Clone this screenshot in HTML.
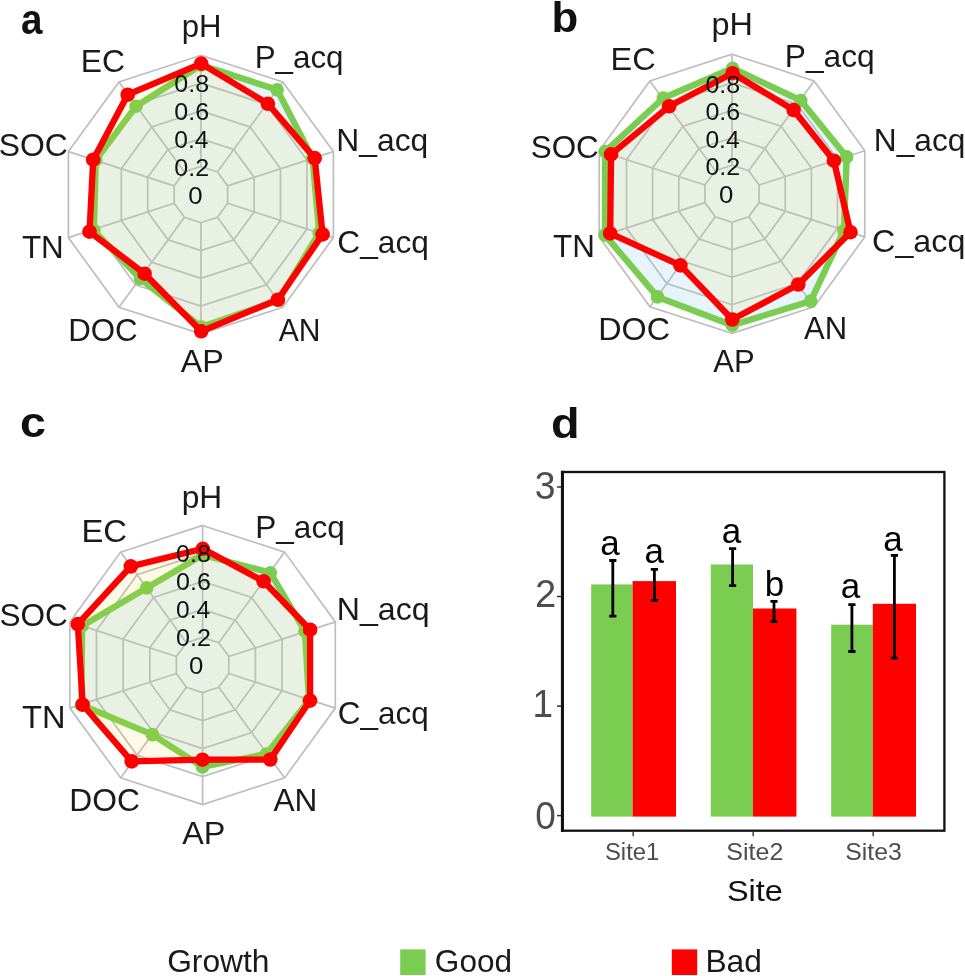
<!DOCTYPE html>
<html><head><meta charset="utf-8"><title>Radar and bar charts</title>
<style>
html,body{margin:0;padding:0;background:#fff;}
svg{position:absolute;left:0;top:0;}
body{width:965px;height:976px;overflow:hidden;font-family:"Liberation Sans", sans-serif;}
svg{display:block;font-family:"Liberation Sans", sans-serif;filter:blur(0.75px);}
</style></head><body>
<svg width="965" height="976" viewBox="0 0 965 976">
<rect width="965" height="976" fill="#ffffff"/>
<polygon points="200.9,166.5 217.4,171.9 227.6,185.9 227.6,203.3 217.4,217.3 200.9,222.7 184.4,217.3 174.2,203.3 174.2,185.9 184.4,171.9" fill="none" stroke="#bebebe" stroke-width="1.7"/>
<polygon points="200.9,138.7 233.8,149.4 254.1,177.3 254.1,211.9 233.8,239.8 200.9,250.5 168.0,239.8 147.7,211.9 147.7,177.3 168.0,149.4" fill="none" stroke="#bebebe" stroke-width="1.7"/>
<polygon points="200.9,110.9 250.1,126.9 280.5,168.7 280.5,220.5 250.1,262.3 200.9,278.3 151.7,262.3 121.3,220.5 121.3,168.7 151.7,126.9" fill="none" stroke="#bebebe" stroke-width="1.7"/>
<polygon points="200.9,83.1 266.4,104.4 306.9,160.1 306.9,229.1 266.4,284.8 200.9,306.1 135.4,284.8 94.9,229.1 94.9,160.1 135.4,104.4" fill="none" stroke="#bebebe" stroke-width="1.7"/>
<polygon points="200.9,55.3 282.8,81.9 333.4,151.6 333.4,237.6 282.8,307.3 200.9,333.9 119.0,307.3 68.4,237.6 68.4,151.6 119.0,81.9" fill="none" stroke="#bebebe" stroke-width="1.7"/>
<line x1="200.9" y1="166.5" x2="200.9" y2="55.3" stroke="#bebebe" stroke-width="1.7"/>
<line x1="217.4" y1="171.9" x2="282.8" y2="81.9" stroke="#bebebe" stroke-width="1.7"/>
<line x1="227.6" y1="185.9" x2="333.4" y2="151.6" stroke="#bebebe" stroke-width="1.7"/>
<line x1="227.6" y1="203.3" x2="333.4" y2="237.6" stroke="#bebebe" stroke-width="1.7"/>
<line x1="217.4" y1="217.3" x2="282.8" y2="307.3" stroke="#bebebe" stroke-width="1.7"/>
<line x1="200.9" y1="222.7" x2="200.9" y2="333.9" stroke="#bebebe" stroke-width="1.7"/>
<line x1="184.4" y1="217.3" x2="119.0" y2="307.3" stroke="#bebebe" stroke-width="1.7"/>
<line x1="174.2" y1="203.3" x2="68.4" y2="237.6" stroke="#bebebe" stroke-width="1.7"/>
<line x1="174.2" y1="185.9" x2="68.4" y2="151.6" stroke="#bebebe" stroke-width="1.7"/>
<line x1="184.4" y1="171.9" x2="119.0" y2="81.9" stroke="#bebebe" stroke-width="1.7"/>
<polygon points="201.2,65.0 277.1,89.8 312.6,158.3 319.2,232.8 278.3,300.5 201.2,327.0 140.4,278.7 93.8,230.4 95.7,160.2 136.0,106.3" fill="rgba(135,206,235,0.2)" stroke="#7acd51" stroke-width="6.4" stroke-linejoin="round"/>
<circle cx="201.2" cy="65.0" r="6.8" fill="#7acd51"/>
<circle cx="277.1" cy="89.8" r="6.8" fill="#7acd51"/>
<circle cx="312.6" cy="158.3" r="6.8" fill="#7acd51"/>
<circle cx="319.2" cy="232.8" r="6.8" fill="#7acd51"/>
<circle cx="278.3" cy="300.5" r="6.8" fill="#7acd51"/>
<circle cx="201.2" cy="327.0" r="6.8" fill="#7acd51"/>
<circle cx="140.4" cy="278.7" r="6.8" fill="#7acd51"/>
<circle cx="93.8" cy="230.4" r="6.8" fill="#7acd51"/>
<circle cx="95.7" cy="160.2" r="6.8" fill="#7acd51"/>
<circle cx="136.0" cy="106.3" r="6.8" fill="#7acd51"/>
<polygon points="201.2,63.6 267.9,103.8 314.7,158.1 322.6,234.4 277.8,299.7 201.2,331.3 144.6,273.7 89.5,231.7 93.2,159.7 127.7,94.7" fill="rgba(250,208,20,0.1)" stroke="#ff0000" stroke-width="6.3" stroke-linejoin="round"/>
<circle cx="201.2" cy="63.6" r="7.3" fill="#ff0000"/>
<circle cx="267.9" cy="103.8" r="7.3" fill="#ff0000"/>
<circle cx="314.7" cy="158.1" r="7.3" fill="#ff0000"/>
<circle cx="322.6" cy="234.4" r="7.3" fill="#ff0000"/>
<circle cx="277.8" cy="299.7" r="7.3" fill="#ff0000"/>
<circle cx="201.2" cy="331.3" r="7.3" fill="#ff0000"/>
<circle cx="144.6" cy="273.7" r="7.3" fill="#ff0000"/>
<circle cx="89.5" cy="231.7" r="7.3" fill="#ff0000"/>
<circle cx="93.2" cy="159.7" r="7.3" fill="#ff0000"/>
<circle cx="127.7" cy="94.7" r="7.3" fill="#ff0000"/>
<text transform="translate(188.18,204.2) scale(1.075,1)" font-size="24" font-weight="normal" fill="#111">0</text>
<text transform="translate(174.30,175.8) scale(1.047,1)" font-size="24" font-weight="normal" fill="#111">0.2</text>
<text transform="translate(174.33,148.0) scale(1.023,1)" font-size="24" font-weight="normal" fill="#111">0.4</text>
<text transform="translate(174.31,120.2) scale(1.044,1)" font-size="24" font-weight="normal" fill="#111">0.6</text>
<text transform="translate(174.31,92.4) scale(1.043,1)" font-size="24" font-weight="normal" fill="#111">0.8</text>
<text transform="translate(181.68,36.8) scale(1.019,1)" font-size="30.5" font-weight="normal" fill="#1a1a1a">pH</text>
<text transform="translate(254.70,68.4) scale(1.028,1)" font-size="30.5" font-weight="normal" fill="#1a1a1a">P_acq</text>
<text transform="translate(336.31,151.0) scale(1.043,1)" font-size="30.5" font-weight="normal" fill="#1a1a1a">N_acq</text>
<text transform="translate(337.29,253.4) scale(1.039,1)" font-size="30.5" font-weight="normal" fill="#1a1a1a">C_acq</text>
<text transform="translate(278.63,341.2) scale(0.985,1)" font-size="30.5" font-weight="normal" fill="#1a1a1a">AN</text>
<text transform="translate(180.84,372.2) scale(1.057,1)" font-size="30.5" font-weight="normal" fill="#1a1a1a">AP</text>
<text transform="translate(68.21,340.8) scale(1.026,1)" font-size="30.5" font-weight="normal" fill="#1a1a1a">DOC</text>
<text transform="translate(21.89,257.7) scale(1.029,1)" font-size="30.5" font-weight="normal" fill="#1a1a1a">TN</text>
<text transform="translate(-1.30,155.6) scale(1.047,1)" font-size="30.5" font-weight="normal" fill="#1a1a1a">SOC</text>
<text transform="translate(80.66,71.6) scale(1.044,1)" font-size="30.5" font-weight="normal" fill="#1a1a1a">EC</text>
<polygon points="732.0,165.3 748.7,170.8 759.1,185.0 759.1,202.6 748.7,216.8 732.0,222.3 715.3,216.8 704.9,202.6 704.9,185.0 715.3,170.8" fill="none" stroke="#bebebe" stroke-width="1.7"/>
<polygon points="732.0,137.8 764.9,148.5 785.2,176.5 785.2,211.1 764.9,239.1 732.0,249.8 699.1,239.1 678.8,211.1 678.8,176.5 699.1,148.5" fill="none" stroke="#bebebe" stroke-width="1.7"/>
<polygon points="732.0,110.4 781.0,126.3 811.4,168.0 811.4,219.6 781.0,261.3 732.0,277.2 683.0,261.3 652.6,219.6 652.6,168.0 683.0,126.3" fill="none" stroke="#bebebe" stroke-width="1.7"/>
<polygon points="732.0,82.9 797.2,104.1 837.5,159.5 837.5,228.1 797.2,283.5 732.0,304.7 666.8,283.5 626.5,228.1 626.5,159.5 666.8,104.1" fill="none" stroke="#bebebe" stroke-width="1.7"/>
<polygon points="732.0,54.2 814.1,80.9 864.8,150.7 864.8,236.9 814.1,306.7 732.0,333.4 649.9,306.7 599.2,236.9 599.2,150.7 649.9,80.9" fill="none" stroke="#bebebe" stroke-width="1.7"/>
<line x1="732.0" y1="165.3" x2="732.0" y2="54.2" stroke="#bebebe" stroke-width="1.7"/>
<line x1="748.7" y1="170.8" x2="814.1" y2="80.9" stroke="#bebebe" stroke-width="1.7"/>
<line x1="759.1" y1="185.0" x2="864.8" y2="150.7" stroke="#bebebe" stroke-width="1.7"/>
<line x1="759.1" y1="202.6" x2="864.8" y2="236.9" stroke="#bebebe" stroke-width="1.7"/>
<line x1="748.7" y1="216.8" x2="814.1" y2="306.7" stroke="#bebebe" stroke-width="1.7"/>
<line x1="732.0" y1="222.3" x2="732.0" y2="333.4" stroke="#bebebe" stroke-width="1.7"/>
<line x1="715.3" y1="216.8" x2="649.9" y2="306.7" stroke="#bebebe" stroke-width="1.7"/>
<line x1="704.9" y1="202.6" x2="599.2" y2="236.9" stroke="#bebebe" stroke-width="1.7"/>
<line x1="704.9" y1="185.0" x2="599.2" y2="150.7" stroke="#bebebe" stroke-width="1.7"/>
<line x1="715.3" y1="170.8" x2="649.9" y2="80.9" stroke="#bebebe" stroke-width="1.7"/>
<polygon points="732.6,68.2 800.8,100.5 846.7,156.9 843.9,230.6 810.7,301.1 732.3,325.2 657.5,296.9 605.0,235.1 605.2,151.6 663.3,98.0" fill="rgba(135,206,235,0.2)" stroke="#7acd51" stroke-width="6.4" stroke-linejoin="round"/>
<circle cx="732.6" cy="68.2" r="6.8" fill="#7acd51"/>
<circle cx="800.8" cy="100.5" r="6.8" fill="#7acd51"/>
<circle cx="846.7" cy="156.9" r="6.8" fill="#7acd51"/>
<circle cx="843.9" cy="230.6" r="6.8" fill="#7acd51"/>
<circle cx="810.7" cy="301.1" r="6.8" fill="#7acd51"/>
<circle cx="732.3" cy="325.2" r="6.8" fill="#7acd51"/>
<circle cx="657.5" cy="296.9" r="6.8" fill="#7acd51"/>
<circle cx="605.0" cy="235.1" r="6.8" fill="#7acd51"/>
<circle cx="605.2" cy="151.6" r="6.8" fill="#7acd51"/>
<circle cx="663.3" cy="98.0" r="6.8" fill="#7acd51"/>
<polygon points="732.6,73.2 793.6,110.0 833.9,160.7 850.5,232.2 798.3,284.5 732.3,319.5 680.4,265.4 610.2,233.4 611.1,154.4 669.1,106.3" fill="rgba(250,208,20,0.1)" stroke="#ff0000" stroke-width="6.3" stroke-linejoin="round"/>
<circle cx="732.6" cy="73.2" r="7.3" fill="#ff0000"/>
<circle cx="793.6" cy="110.0" r="7.3" fill="#ff0000"/>
<circle cx="833.9" cy="160.7" r="7.3" fill="#ff0000"/>
<circle cx="850.5" cy="232.2" r="7.3" fill="#ff0000"/>
<circle cx="798.3" cy="284.5" r="7.3" fill="#ff0000"/>
<circle cx="732.3" cy="319.5" r="7.3" fill="#ff0000"/>
<circle cx="680.4" cy="265.4" r="7.3" fill="#ff0000"/>
<circle cx="610.2" cy="233.4" r="7.3" fill="#ff0000"/>
<circle cx="611.1" cy="154.4" r="7.3" fill="#ff0000"/>
<circle cx="669.1" cy="106.3" r="7.3" fill="#ff0000"/>
<text transform="translate(719.08,202.8) scale(1.075,1)" font-size="24" font-weight="normal" fill="#111">0</text>
<text transform="translate(705.40,175.3) scale(1.047,1)" font-size="24" font-weight="normal" fill="#111">0.2</text>
<text transform="translate(705.43,147.8) scale(1.023,1)" font-size="24" font-weight="normal" fill="#111">0.4</text>
<text transform="translate(705.41,120.4) scale(1.044,1)" font-size="24" font-weight="normal" fill="#111">0.6</text>
<text transform="translate(705.41,92.9) scale(1.043,1)" font-size="24" font-weight="normal" fill="#111">0.8</text>
<text transform="translate(711.60,35.0) scale(1.062,1)" font-size="30.5" font-weight="normal" fill="#1a1a1a">pH</text>
<text transform="translate(784.77,67.4) scale(1.040,1)" font-size="30.5" font-weight="normal" fill="#1a1a1a">P_acq</text>
<text transform="translate(873.87,150.6) scale(1.038,1)" font-size="30.5" font-weight="normal" fill="#1a1a1a">N_acq</text>
<text transform="translate(872.11,251.8) scale(1.058,1)" font-size="30.5" font-weight="normal" fill="#1a1a1a">C_acq</text>
<text transform="translate(804.04,339.3) scale(1.017,1)" font-size="30.5" font-weight="normal" fill="#1a1a1a">AN</text>
<text transform="translate(713.24,371.7) scale(1.018,1)" font-size="30.5" font-weight="normal" fill="#1a1a1a">AP</text>
<text transform="translate(598.22,340.2) scale(1.060,1)" font-size="30.5" font-weight="normal" fill="#1a1a1a">DOC</text>
<text transform="translate(552.99,257.2) scale(1.029,1)" font-size="30.5" font-weight="normal" fill="#1a1a1a">TN</text>
<text transform="translate(530.73,157.6) scale(1.030,1)" font-size="30.5" font-weight="normal" fill="#1a1a1a">SOC</text>
<text transform="translate(610.61,70.2) scale(1.065,1)" font-size="30.5" font-weight="normal" fill="#1a1a1a">EC</text>
<polygon points="202.6,637.4 218.8,642.7 228.8,656.5 228.8,673.5 218.8,687.3 202.6,692.6 186.4,687.3 176.4,673.5 176.4,656.5 186.4,642.7" fill="none" stroke="#bebebe" stroke-width="1.7"/>
<polygon points="202.6,609.4 235.3,620.1 255.4,647.8 255.4,682.2 235.3,709.9 202.6,720.6 169.9,709.9 149.8,682.2 149.8,647.8 169.9,620.1" fill="none" stroke="#bebebe" stroke-width="1.7"/>
<polygon points="202.6,581.5 251.7,597.4 282.1,639.2 282.1,690.8 251.7,732.6 202.6,748.5 153.5,732.6 123.1,690.8 123.1,639.2 153.5,597.4" fill="none" stroke="#bebebe" stroke-width="1.7"/>
<polygon points="202.6,553.5 268.1,574.8 308.7,630.5 308.7,699.5 268.1,755.2 202.6,776.5 137.1,755.2 96.5,699.5 96.5,630.5 137.1,574.8" fill="none" stroke="#bebebe" stroke-width="1.7"/>
<polygon points="202.6,525.5 284.6,552.1 335.3,621.9 335.3,708.1 284.6,777.9 202.6,804.5 120.6,777.9 69.9,708.1 69.9,621.9 120.6,552.1" fill="none" stroke="#bebebe" stroke-width="1.7"/>
<line x1="202.6" y1="637.4" x2="202.6" y2="525.5" stroke="#bebebe" stroke-width="1.7"/>
<line x1="218.8" y1="642.7" x2="284.6" y2="552.1" stroke="#bebebe" stroke-width="1.7"/>
<line x1="228.8" y1="656.5" x2="335.3" y2="621.9" stroke="#bebebe" stroke-width="1.7"/>
<line x1="228.8" y1="673.5" x2="335.3" y2="708.1" stroke="#bebebe" stroke-width="1.7"/>
<line x1="218.8" y1="687.3" x2="284.6" y2="777.9" stroke="#bebebe" stroke-width="1.7"/>
<line x1="202.6" y1="692.6" x2="202.6" y2="804.5" stroke="#bebebe" stroke-width="1.7"/>
<line x1="186.4" y1="687.3" x2="120.6" y2="777.9" stroke="#bebebe" stroke-width="1.7"/>
<line x1="176.4" y1="673.5" x2="69.9" y2="708.1" stroke="#bebebe" stroke-width="1.7"/>
<line x1="176.4" y1="656.5" x2="69.9" y2="621.9" stroke="#bebebe" stroke-width="1.7"/>
<line x1="186.4" y1="642.7" x2="120.6" y2="552.1" stroke="#bebebe" stroke-width="1.7"/>
<polygon points="202.6,555.0 270.3,572.7 305.0,631.3 309.0,700.2 266.5,754.0 202.5,766.9 152.4,734.6 81.5,705.0 82.0,626.0 146.6,587.9" fill="rgba(135,206,235,0.2)" stroke="#7acd51" stroke-width="6.4" stroke-linejoin="round"/>
<circle cx="202.6" cy="555.0" r="6.8" fill="#7acd51"/>
<circle cx="270.3" cy="572.7" r="6.8" fill="#7acd51"/>
<circle cx="305.0" cy="631.3" r="6.8" fill="#7acd51"/>
<circle cx="309.0" cy="700.2" r="6.8" fill="#7acd51"/>
<circle cx="266.5" cy="754.0" r="6.8" fill="#7acd51"/>
<circle cx="202.5" cy="766.9" r="6.8" fill="#7acd51"/>
<circle cx="152.4" cy="734.6" r="6.8" fill="#7acd51"/>
<circle cx="81.5" cy="705.0" r="6.8" fill="#7acd51"/>
<circle cx="82.0" cy="626.0" r="6.8" fill="#7acd51"/>
<circle cx="146.6" cy="587.9" r="6.8" fill="#7acd51"/>
<polygon points="202.8,548.8 263.6,581.3 310.1,629.7 310.1,700.6 270.3,759.5 202.5,759.7 131.7,761.4 82.7,704.7 77.8,624.1 130.8,566.4" fill="rgba(250,208,20,0.1)" stroke="#ff0000" stroke-width="6.3" stroke-linejoin="round"/>
<circle cx="202.8" cy="548.8" r="7.3" fill="#ff0000"/>
<circle cx="263.6" cy="581.3" r="7.3" fill="#ff0000"/>
<circle cx="310.1" cy="629.7" r="7.3" fill="#ff0000"/>
<circle cx="310.1" cy="700.6" r="7.3" fill="#ff0000"/>
<circle cx="270.3" cy="759.5" r="7.3" fill="#ff0000"/>
<circle cx="202.5" cy="759.7" r="7.3" fill="#ff0000"/>
<circle cx="131.7" cy="761.4" r="7.3" fill="#ff0000"/>
<circle cx="82.7" cy="704.7" r="7.3" fill="#ff0000"/>
<circle cx="77.8" cy="624.1" r="7.3" fill="#ff0000"/>
<circle cx="130.8" cy="566.4" r="7.3" fill="#ff0000"/>
<text transform="translate(188.88,674.0) scale(1.075,1)" font-size="24" font-weight="normal" fill="#111">0</text>
<text transform="translate(176.00,646.0) scale(1.047,1)" font-size="24" font-weight="normal" fill="#111">0.2</text>
<text transform="translate(176.03,618.0) scale(1.023,1)" font-size="24" font-weight="normal" fill="#111">0.4</text>
<text transform="translate(176.01,590.1) scale(1.044,1)" font-size="24" font-weight="normal" fill="#111">0.6</text>
<text transform="translate(176.01,562.1) scale(1.043,1)" font-size="24" font-weight="normal" fill="#111">0.8</text>
<text transform="translate(181.64,507.5) scale(1.039,1)" font-size="30.5" font-weight="normal" fill="#1a1a1a">pH</text>
<text transform="translate(255.28,538.0) scale(1.034,1)" font-size="30.5" font-weight="normal" fill="#1a1a1a">P_acq</text>
<text transform="translate(336.84,620.2) scale(1.053,1)" font-size="30.5" font-weight="normal" fill="#1a1a1a">N_acq</text>
<text transform="translate(337.85,724.1) scale(1.032,1)" font-size="30.5" font-weight="normal" fill="#1a1a1a">C_acq</text>
<text transform="translate(273.54,811.0) scale(1.037,1)" font-size="30.5" font-weight="normal" fill="#1a1a1a">AN</text>
<text transform="translate(182.14,843.7) scale(1.062,1)" font-size="30.5" font-weight="normal" fill="#1a1a1a">AP</text>
<text transform="translate(69.37,811.4) scale(1.042,1)" font-size="30.5" font-weight="normal" fill="#1a1a1a">DOC</text>
<text transform="translate(22.06,728.3) scale(1.069,1)" font-size="30.5" font-weight="normal" fill="#1a1a1a">TN</text>
<text transform="translate(-0.58,626.2) scale(1.035,1)" font-size="30.5" font-weight="normal" fill="#1a1a1a">SOC</text>
<text transform="translate(81.38,542.3) scale(1.076,1)" font-size="30.5" font-weight="normal" fill="#1a1a1a">EC</text>
<text transform="translate(21.00,34.0) scale(0.928,1)" font-size="41.6" font-weight="bold" fill="#111">a</text>
<text transform="translate(551.49,32.0) scale(1.052,1)" font-size="41.6" font-weight="bold" fill="#111">b</text>
<text transform="translate(20.04,437.0) scale(1.121,1)" font-size="41.6" font-weight="bold" fill="#111">c</text>
<text transform="translate(550.97,437.7) scale(1.126,1)" font-size="41.6" font-weight="bold" fill="#111">d</text>
<rect x="591.2" y="584.4" width="41.4" height="232.2" fill="#7acd51"/>
<rect x="632.6" y="581.1" width="43.4" height="235.5" fill="#ff0000"/>
<rect x="710.8" y="564.5" width="42.2" height="252.1" fill="#7acd51"/>
<rect x="753" y="608.5" width="43.4" height="208.1" fill="#ff0000"/>
<rect x="831.2" y="624.7" width="41.6" height="191.9" fill="#7acd51"/>
<rect x="872.8" y="603.8" width="43.2" height="212.8" fill="#ff0000"/>
<path d="M612.8,560.5V616.2M609.1999999999999,560.5H616.4M609.1999999999999,616.2H616.4" stroke="#000" stroke-width="2.8" fill="none"/>
<path d="M654.4,569.4V600.3M650.8,569.4H658.0M650.8,600.3H658.0" stroke="#000" stroke-width="2.8" fill="none"/>
<path d="M732.6,548.7V585.6M729.0,548.7H736.2M729.0,585.6H736.2" stroke="#000" stroke-width="2.8" fill="none"/>
<path d="M774,601.3V621.7M770.4,601.3H777.6M770.4,621.7H777.6" stroke="#000" stroke-width="2.8" fill="none"/>
<path d="M851.9,604.6V651.5M848.3,604.6H855.5M848.3,651.5H855.5" stroke="#000" stroke-width="2.8" fill="none"/>
<path d="M894.4,555.4V658.2M890.8,555.4H898.0M890.8,658.2H898.0" stroke="#000" stroke-width="2.8" fill="none"/>
<text x="610" y="554.5" font-size="35" text-anchor="middle" fill="#000">a</text>
<text x="654.2" y="563.2" font-size="35" text-anchor="middle" fill="#000">a</text>
<text x="731.5" y="543.3" font-size="35" text-anchor="middle" fill="#000">a</text>
<text x="774.4" y="596.3" font-size="35" text-anchor="middle" fill="#000">b</text>
<text x="850.4" y="597.6" font-size="35" text-anchor="middle" fill="#000">a</text>
<text x="893" y="550.8" font-size="35" text-anchor="middle" fill="#000">a</text>
<rect x="562.6" y="472" width="381.8" height="358.7" fill="none" stroke="#111" stroke-width="2.3"/>
<line x1="562.4" y1="470.7" x2="562.4" y2="832" stroke="#111" stroke-width="3"/>
<line x1="557" y1="815.6" x2="561" y2="815.6" stroke="#333" stroke-width="1.5"/>
<text transform="translate(535.31,828.8) scale(0.960,1)" font-size="38.5" font-weight="normal" fill="#4d4d4d">0</text>
<line x1="557" y1="706.1" x2="561" y2="706.1" stroke="#333" stroke-width="1.5"/>
<text transform="translate(532.57,716.5) scale(0.960,1)" font-size="38.5" font-weight="normal" fill="#4d4d4d">1</text>
<line x1="557" y1="596.5" x2="561" y2="596.5" stroke="#333" stroke-width="1.5"/>
<text transform="translate(535.07,607.1) scale(0.991,1)" font-size="38.5" font-weight="normal" fill="#4d4d4d">2</text>
<line x1="557" y1="487.0" x2="561" y2="487.0" stroke="#333" stroke-width="1.5"/>
<text transform="translate(534.87,498.9) scale(0.970,1)" font-size="38.5" font-weight="normal" fill="#4d4d4d">3</text>
<line x1="633.2" y1="831.7" x2="633.2" y2="836.2" stroke="#333" stroke-width="1.4"/>
<text transform="translate(604.94,860.2) scale(0.975,1)" font-size="24.5" font-weight="normal" fill="#4d4d4d">Site1</text>
<line x1="753.2" y1="831.7" x2="753.2" y2="836.2" stroke="#333" stroke-width="1.4"/>
<text transform="translate(726.29,860.2) scale(1.021,1)" font-size="24.5" font-weight="normal" fill="#4d4d4d">Site2</text>
<line x1="873.2" y1="831.7" x2="873.2" y2="836.2" stroke="#333" stroke-width="1.4"/>
<text transform="translate(845.20,860.2) scale(1.013,1)" font-size="24.5" font-weight="normal" fill="#4d4d4d">Site3</text>
<text transform="translate(726.91,901.4) scale(1.083,1)" font-size="30" font-weight="normal" fill="#111">Site</text>
<text transform="translate(167.16,972.3) scale(1.040,1)" font-size="30.5" font-weight="normal" fill="#1a1a1a">Growth</text>
<rect x="400.2" y="949.4" width="25.4" height="25.6" fill="#7acd51"/>
<text transform="translate(434.87,972.3) scale(1.035,1)" font-size="30.5" font-weight="normal" fill="#1a1a1a">Good</text>
<rect x="671.8" y="949.4" width="25.4" height="25.6" fill="#ff0000"/>
<text transform="translate(705.47,972.3) scale(1.040,1)" font-size="30.5" font-weight="normal" fill="#1a1a1a">Bad</text>
</svg>
</body></html>
